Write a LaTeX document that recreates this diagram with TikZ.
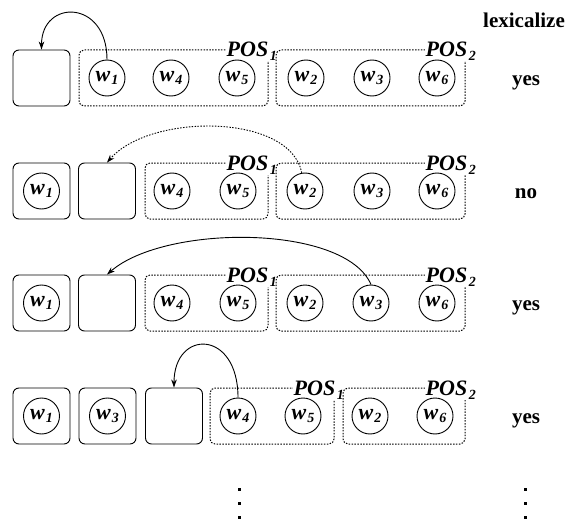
\documentclass[tikz,border=0pt]{standalone}
\usepackage{fontspec}
\setmainfont{Liberation Serif}
\usetikzlibrary{arrows.meta}
\newcommand{\wsub}[1]{\textbf{\textit{w}}\kern0.8pt\raisebox{-3.5pt}{\fontsize{14}{14}\selectfont\textbf{\textit{#1}}}}
\newcommand{\possub}[1]{\textbf{\textit{POS}}\kern1.5pt\raisebox{-4pt}{\fontsize{14}{14}\selectfont\textbf{\textit{#1}}}}
\begin{document}
\begin{tikzpicture}[x=1pt,y=-1pt,
  wc/.style={circle,draw,line width=0.9pt,minimum size=36pt,inner sep=0pt,font=\fontsize{22}{22}\selectfont},
  bx/.style={rectangle,draw,line width=0.9pt,rounded corners=6pt,minimum width=57pt,minimum height=56pt,inner sep=0pt},
  grp/.style={rectangle,draw,line width=1pt,dash pattern=on 1.5pt off 1.4pt,rounded corners=5pt,minimum height=56pt,inner sep=0pt},
  plab/.style={anchor=base west,fill=white,inner sep=0.5pt,font=\fontsize{22}{22}\selectfont},
  ans/.style={anchor=base,font=\fontsize{21}{21}\selectfont\bfseries},
  arr/.style={line width=0.9pt,-{Stealth[length=8pt,width=5.5pt]}},
  dotm/.style={fill=black,minimum size=3pt,inner sep=0pt,rectangle}
]
\useasboundingbox (0,0) rectangle (571,519);
\node[ans] (lex) at (524,28) {lexicalize};

% ---------- Row 1 ----------
\node[bx] (r1e) at (41.5,78) {};
\node[grp,minimum width=189pt] (r1A) at (173.5,78) {};
\node[plab] (r1PA) at (226,57) {\possub{1}};
\node[grp,minimum width=189pt] (r1B) at (370.5,78) {};
\node[plab] (r1PB) at (425,57) {\possub{2}};
\node[wc] (r1w1) at (107,78) {\wsub{1}};
\node[wc] (r1w4) at (171,78) {\wsub{4}};
\node[wc] (r1w5) at (237,78) {\wsub{5}};
\node[wc] (r1w2) at (306,78) {\wsub{2}};
\node[wc] (r1w3) at (372,78) {\wsub{3}};
\node[wc] (r1w6) at (437,78) {\wsub{6}};
\node[ans] (r1a) at (526,85) {yes};
\draw[arr] (r1w1.north) .. controls (107,-1) and (41.5,-1) .. (r1e.north);

% ---------- Row 2 ----------
\node[bx] (r2b1) at (41.5,191) {};
\node[wc] (r2w1) at (41.5,191) {\wsub{1}};
\node[bx] (r2e) at (107,191) {};
\node[grp,minimum width=123pt] (r2A) at (206.5,191) {};
\node[plab] (r2PA) at (226,170) {\possub{1}};
\node[grp,minimum width=189pt] (r2B) at (370.5,191) {};
\node[plab] (r2PB) at (425,170) {\possub{2}};
\node[wc] (r2w4) at (172,191) {\wsub{4}};
\node[wc] (r2w5) at (238,191) {\wsub{5}};
\node[wc] (r2w2) at (305,191) {\wsub{2}};
\node[wc] (r2w3) at (372,191) {\wsub{3}};
\node[wc] (r2w6) at (437,191) {\wsub{6}};
\node[ans] (r2a) at (526,198) {no};
\draw[arr,dash pattern=on 1.5pt off 1.4pt] (r2w2.100) .. controls (290,113) and (150,113) .. (r2e.north);

% ---------- Row 3 ----------
\node[bx] (r3b1) at (41.5,303) {};
\node[wc] (r3w1) at (41.5,303) {\wsub{1}};
\node[bx] (r3e) at (107,303) {};
\node[grp,minimum width=123pt] (r3A) at (206.5,303) {};
\node[plab] (r3PA) at (226,282) {\possub{1}};
\node[grp,minimum width=189pt] (r3B) at (370.5,303) {};
\node[plab] (r3PB) at (425,282) {\possub{2}};
\node[wc] (r3w4) at (172,303) {\wsub{4}};
\node[wc] (r3w5) at (238,303) {\wsub{5}};
\node[wc] (r3w2) at (305,303) {\wsub{2}};
\node[wc] (r3w3) at (371,303) {\wsub{3}};
\node[wc] (r3w6) at (437,303) {\wsub{6}};
\node[ans] (r3a) at (526,310) {yes};
\draw[arr] (r3w3.north) .. controls (345,224) and (165,224) .. (r3e.north);

% ---------- Row 4 ----------
\node[bx] (r4b1) at (41.5,416) {};
\node[wc] (r4w1) at (41.5,416) {\wsub{1}};
\node[bx] (r4b3) at (107.5,416) {};
\node[wc] (r4w3) at (107.5,416) {\wsub{3}};
\node[bx] (r4e) at (174,416) {};
\node[grp,minimum width=124pt] (r4A) at (272,416) {};
\node[plab] (r4PA) at (293,395) {\possub{1}};
\node[grp,minimum width=122pt] (r4B) at (404,416) {};
\node[plab] (r4PB) at (425,395) {\possub{2}};
\node[wc] (r4w4) at (238,416) {\wsub{4}};
\node[wc] (r4w5) at (303,416) {\wsub{5}};
\node[wc] (r4w2) at (370,416) {\wsub{2}};
\node[wc] (r4w6) at (435,416) {\wsub{6}};
\node[ans] (r4a) at (526,423) {yes};
\draw[arr] (r4w4.north) .. controls (238,329) and (174,329) .. (r4e.north);

% ---------- dots ----------
\node[dotm] (d1) at (239,489) {};
\node[dotm] (d2) at (239,503) {};
\node[dotm] (d3) at (239,517) {};
\node[dotm] (e1) at (525,489) {};
\node[dotm] (e2) at (525,503) {};
\node[dotm] (e3) at (525,517) {};
\end{tikzpicture}
\end{document}
